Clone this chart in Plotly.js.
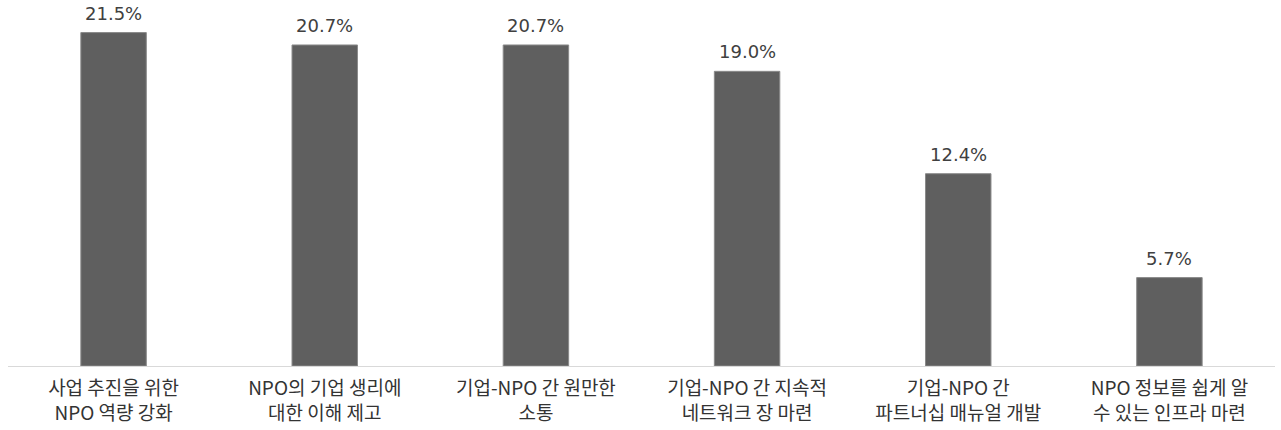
<!DOCTYPE html>
<html>
<head>
<meta charset="utf-8">
<script src="https://cdn.plot.ly/plotly-3.0.1.min.js"></script>
<style>html,body{margin:0;padding:0;background:#fff;}#chart{width:1281px;height:430px;}</style>
</head>
<body>
<div id="chart"></div>
<script>
const categories = [
  "사업 추진을 위한<br>NPO 역량 강화",
  "NPO의 기업 생리에<br>대한 이해 제고",
  "기업-NPO 간 원만한<br>소통",
  "기업-NPO 간 지속적<br>네트워크 장 마련",
  "기업-NPO 간<br>파트너십 매뉴얼 개발",
  "NPO 정보를 쉽게 알<br>수 있는 인프라 마련"
];
const values = [21.5, 20.7, 20.7, 19.0, 12.4, 5.7];
const valueLabels = ["21.5%", "20.7%", "20.7%", "19.0%", "12.4%", "5.7%"];

const trace = {
  type: 'bar',
  x: categories,
  y: values,
  cliponaxis: false,
  marker: {color: '#5f5f5f', line: {color: '#8a8a8a', width: 1}},
  hoverinfo: 'none'
};

const annotations = categories.map((c, i) => ({
  x: c,
  y: values[i],
  xref: 'x',
  yref: 'y',
  text: valueLabels[i],
  showarrow: false,
  yanchor: 'bottom',
  yshift: 7,
  font: {family: 'DejaVu Sans, sans-serif', size: 18, color: '#404040'}
}));

const layout = {
  width: 1281,
  height: 430,
  margin: {l: 8, r: 6, t: 0, b: 64},
  paper_bgcolor: '#ffffff',
  plot_bgcolor: '#ffffff',
  bargap: 0.69,
  showlegend: false,
  annotations: annotations,
  xaxis: {
    showline: true,
    linecolor: '#d9d9d9',
    linewidth: 1,
    ticks: '',
    showgrid: false,
    ticklabelstandoff: 5,
    tickfont: {family: 'Noto Sans CJK KR, sans-serif', size: 19, color: '#333333'},
    tickangle: 0,
    automargin: false
  },
  yaxis: {
    range: [0, 23.6],
    visible: false,
    showgrid: false,
    zeroline: false
  }
};

Plotly.newPlot('chart', [trace], layout, {displayModeBar: false, staticPlot: true});
</script>
</body>
</html>
